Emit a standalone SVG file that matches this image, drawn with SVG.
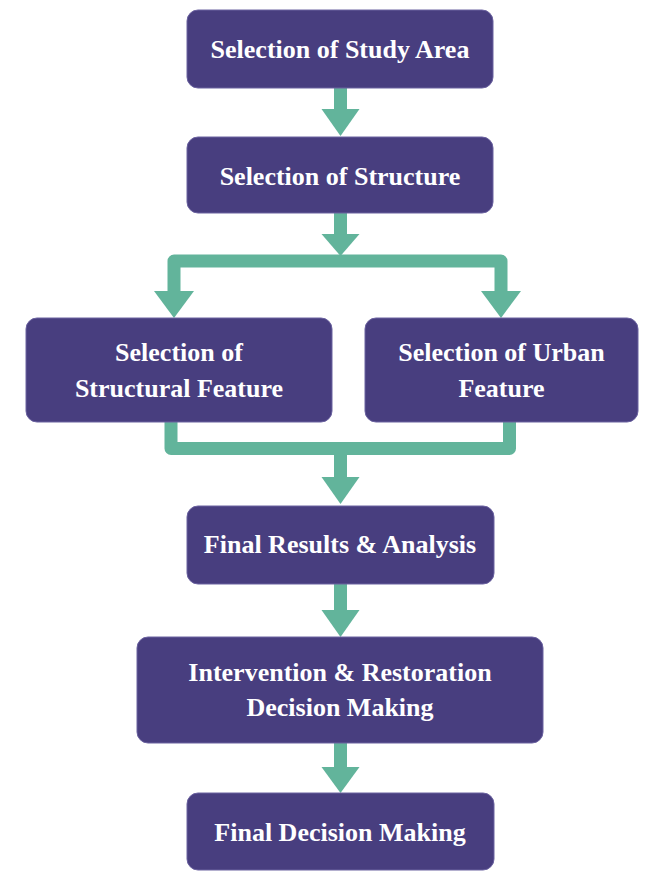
<svg xmlns="http://www.w3.org/2000/svg" width="650" height="871" viewBox="0 0 650 871">
<style>
.box{fill:#483e7f;stroke:#6b62a0;stroke-width:1}
.t{font-family:"Liberation Serif","Times New Roman",serif;font-weight:bold;font-size:26px;fill:#ffffff;text-anchor:middle}
.ln{fill:none;stroke:#62b49b;stroke-width:13;stroke-linejoin:round}
.hd{fill:#62b49b}
</style>
<rect width="650" height="871" fill="#ffffff"/>
<g id="connectors">
<path class="ln" d="M340.5,88 V110"/>
<polygon class="hd" points="321.5,109 359.5,109 340.5,136"/>
<path class="ln" d="M340.5,213 V236"/>
<polygon class="hd" points="321.5,234 359.5,234 340.5,256"/>
<path class="ln" d="M174,293 V261 H501 V293"/>
<polygon class="hd" points="154,291 194,291 174,318"/>
<polygon class="hd" points="481,291 521,291 501,318"/>
<path class="ln" d="M171,422 V448.5 H509.5 V422"/>
<path class="ln" d="M340.5,448 V478"/>
<polygon class="hd" points="321.5,477 359.5,477 340.5,504"/>
<path class="ln" d="M340.5,584 V611"/>
<polygon class="hd" points="321.5,610 359.5,610 340.5,637"/>
<path class="ln" d="M340.5,743 V768"/>
<polygon class="hd" points="321.5,767 359.5,767 340.5,793"/>
</g>
<g id="n1"><rect class="box" x="187" y="10" width="306" height="78" rx="11"/><text class="t" x="340" y="58">Selection of Study Area</text></g>
<g id="n2"><rect class="box" x="187" y="137" width="306" height="76" rx="11"/><text class="t" x="340" y="185">Selection of Structure</text></g>
<g id="n3"><rect class="box" x="26" y="318" width="306" height="104" rx="11"/><text class="t" x="179" y="361">Selection of</text><text class="t" x="179" y="397">Structural Feature</text></g>
<g id="n4"><rect class="box" x="365" y="318" width="273" height="104" rx="11"/><text class="t" x="501.5" y="361">Selection of Urban</text><text class="t" x="501.5" y="397">Feature</text></g>
<g id="n5"><rect class="box" x="187" y="506" width="307" height="78" rx="11"/><text class="t" x="340" y="553">Final Results &amp; Analysis</text></g>
<g id="n6"><rect class="box" x="137" y="637" width="406" height="106" rx="11"/><text class="t" x="340" y="681">Intervention &amp; Restoration</text><text class="t" x="340" y="716">Decision Making</text></g>
<g id="n7"><rect class="box" x="187" y="793" width="307" height="77" rx="11"/><text class="t" x="340" y="841">Final Decision Making</text></g>
</svg>
